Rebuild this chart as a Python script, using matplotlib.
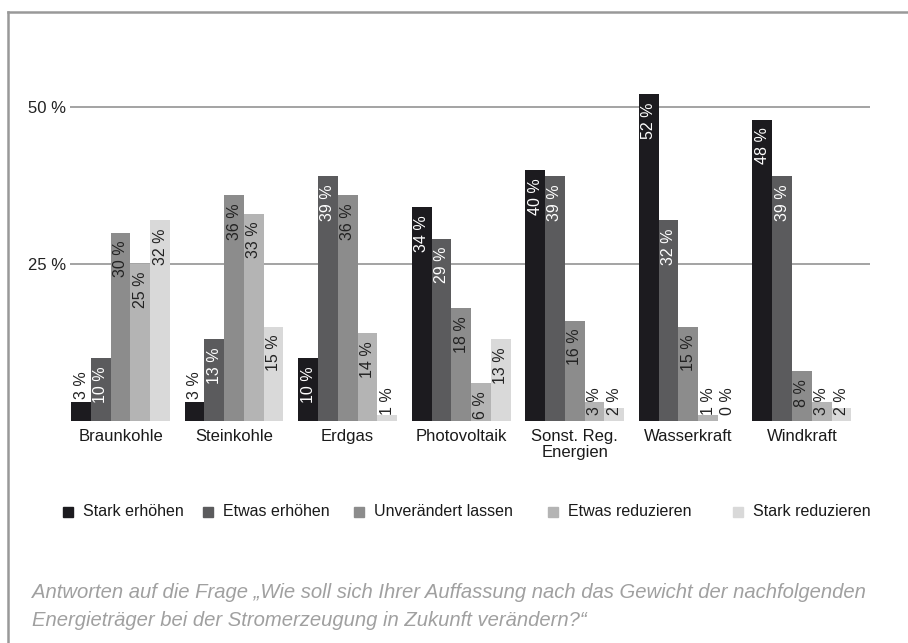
import numpy as np
import matplotlib.pyplot as plt
from matplotlib.lines import Line2D

plt.rcParams['font.family'] = ['Liberation Sans', 'DejaVu Sans']

# Daten
kategorien = ["Braunkohle", "Steinkohle", "Erdgas", "Photovoltaik",
              "Sonst. Reg.\nEnergien", "Wasserkraft", "Windkraft"]
stark_erhoehen = [3, 3, 10, 34, 40, 52, 48]
etwas_erhoehen = [10, 13, 39, 29, 39, 32, 39]
unveraendert = [30, 36, 36, 18, 16, 15, 8]
etwas_reduzieren = [25, 33, 14, 6, 3, 1, 3]
stark_reduzieren = [32, 15, 1, 13, 2, 0, 2]
serien_namen = ["Stark erhöhen", "Etwas erhöhen", "Unverändert lassen",
                "Etwas reduzieren", "Stark reduzieren"]
farben = ["#1c1b1f", "#5b5b5d", "#8c8c8c", "#b4b4b4", "#d9d9d9"]
serien = [stark_erhoehen, etwas_erhoehen, unveraendert, etwas_reduzieren, stark_reduzieren]

W, H = 908, 643
fig = plt.figure(figsize=(W / 100, H / 100), dpi=100)

# Rahmen oben und links
fig.add_artist(Line2D([7.5 / W, 7.5 / W], [0, 1 - 12 / H], transform=fig.transFigure,
                      color="#999999", lw=1.8))
fig.add_artist(Line2D([7.5 / W, 1], [1 - 12 / H, 1 - 12 / H], transform=fig.transFigure,
                      color="#999999", lw=1.8))

ax = fig.add_axes([70 / W, (H - 421) / H, 800 / W, (421 - 75.6) / H])
ax.set_xlim(-0.445, 6.6)
ax.set_ylim(0, 55)
for s in ax.spines.values():
    s.set_visible(False)
ax.set_yticks([25, 50])
ax.set_yticklabels(["25 %", "50 %"], fontsize=12, color="#222222")
ax.tick_params(axis="y", length=0, pad=3)
ax.yaxis.grid(True, color="#8a8a8a", lw=1.1)
ax.set_axisbelow(True)
ax.set_xticks([])

x = np.arange(len(kategorien))
breite = 0.174
px_pro_prozent = 6.28
fig.canvas.draw()
renderer = fig.canvas.get_renderer()

for i, (werte, farbe) in enumerate(zip(serien, farben)):
    pos = x + (i - 2) * breite
    ax.bar(pos, werte, width=breite, color=farbe, zorder=2)
    for xp, v in zip(pos, werte):
        t = ax.text(xp, v, f"{v} %", rotation=90, ha="center", va="top",
                    fontsize=11.5, zorder=3)
        laenge = t.get_window_extent(renderer).height / px_pro_prozent
        luecke = 8 / px_pro_prozent
        if v - luecke - laenge >= 0:
            t.set_y(v - luecke)
            t.set_color("white" if i < 2 else "#222222")
        elif i < 2:
            t.set_y(v + 0.5)
            t.set_va("bottom")
            t.set_color("#222222")
        else:
            t.set_y(1.0)
            t.set_va("bottom")
            t.set_color("#222222")

for xi, name in zip(x, kategorien):
    ax.text(xi, -1.3, name, ha="center", va="top", fontsize=12,
            color="#1a1a1a", linespacing=1.1)

# Legende
leg_x = [63, 203, 354, 548, 733]
for lx, name, farbe in zip(leg_x, serien_namen, farben):
    fig.patches.append(plt.Rectangle((lx / W, (H - 517) / H), 10 / W, 10 / H,
                                     transform=fig.transFigure, color=farbe))
    fig.text((lx + 20) / W, (H - 512) / H, name, ha="left", va="center",
             fontsize=11.5, color="#1a1a1a")

fig.text(32 / W, (H - 593) / H,
         "Antworten auf die Frage „Wie soll sich Ihrer Auffassung nach das Gewicht der nachfolgenden",
         ha="left", va="center", fontsize=14.6, style="italic", color="#a0a0a0")
fig.text(32 / W, (H - 620) / H,
         "Energieträger bei der Stromerzeugung in Zukunft verändern?“",
         ha="left", va="center", fontsize=14.6, style="italic", color="#a0a0a0")

fig.savefig("out.png", dpi=100)
